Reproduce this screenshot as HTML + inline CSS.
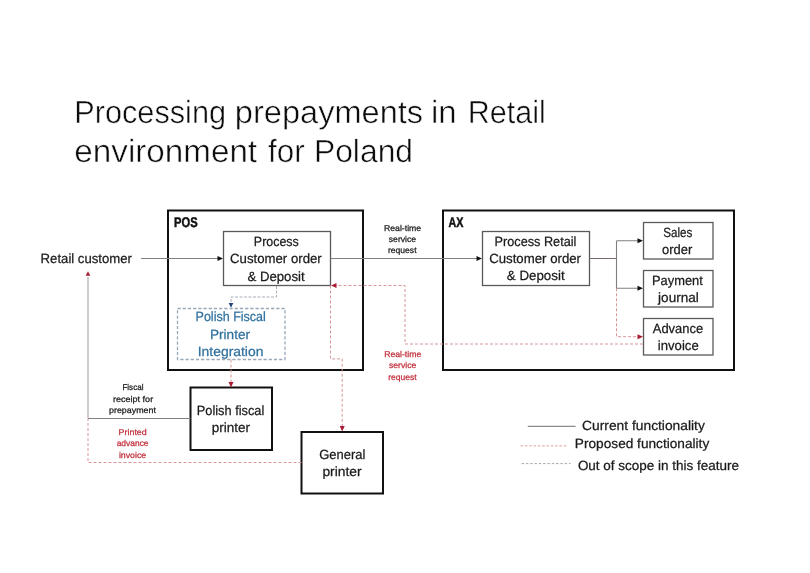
<!DOCTYPE html>
<html><head><meta charset="utf-8">
<style>
html,body{margin:0;padding:0;background:#fff;}
body{width:810px;height:573px;overflow:hidden;}
svg{display:block;text-rendering:geometricPrecision;filter:blur(0.3px);font-family:"Liberation Sans", sans-serif;}
</style></head>
<body>
<svg width="810" height="573" viewBox="0 0 810 573">
<rect width="810" height="573" fill="#fff"/>
<!-- Big boxes -->
<rect x="168" y="210.5" width="195" height="159.5" fill="none" stroke="#111" stroke-width="2"/>
<rect x="443" y="210.5" width="291" height="159.5" fill="none" stroke="#111" stroke-width="2"/>
<!-- Process boxes -->
<g fill="none" stroke="#5a5a5a" stroke-width="1.3">
<rect x="223.5" y="231.5" width="107" height="54"/>
<rect x="482.5" y="231.5" width="107" height="54"/>
<rect x="643.5" y="222.5" width="69.5" height="36.5"/>
<rect x="643.5" y="270.5" width="69.5" height="36.5"/>
<rect x="643.5" y="318.5" width="69.5" height="36.5"/>
</g>
<!-- Polish Fiscal Printer Integration -->
<rect x="177.5" y="308.5" width="107.5" height="51" fill="none" stroke="#98a8b8" stroke-width="1.3" stroke-dasharray="3.2 2"/>
<!-- Printers -->
<rect x="190.5" y="387.5" width="81.5" height="62.5" fill="none" stroke="#111" stroke-width="2"/>
<rect x="301.5" y="432" width="81.5" height="61.5" fill="none" stroke="#111" stroke-width="2"/>
<!-- Legend lines -->
<line x1="527.8" y1="426.3" x2="575.6" y2="426.3" stroke="#8a8a8a" stroke-width="1.2"/>
<line x1="520.7" y1="445.9" x2="568" y2="445.9" stroke="#dca0a0" stroke-width="1" stroke-dasharray="2.5 1.8"/>
<line x1="521.6" y1="463.6" x2="570.7" y2="463.6" stroke="#a4aab2" stroke-width="1" stroke-dasharray="2.5 1.8"/>
<!-- red dashed -->
<g fill="none" stroke="#d89698" stroke-width="1" stroke-dasharray="3 2">
<path d="M616.5 288.3V336.7H638"/>
<path d="M643 344H405V285.5H336"/>
<path d="M330.5 285.5V358.9H342.2V426"/>
<path d="M231 359.5V382"/>
<path d="M301.5 462.5H88V419"/>
</g>
<!-- Connectors: solid -->
<g fill="none" stroke="#808080" stroke-width="1.1">
<path d="M141 258.5H218"/>
<path d="M330.5 258.5H477"/>
<path d="M616.5 240.7V288.3M616.5 240.7H638M616.5 288.3H638"/>
<path d="M190.5 418.5H88"/><path d="M88 418.5V277" stroke="#aaa0a2"/>
</g>
<path d="M589.5 258.5H616.5" stroke="#7a6a6a" stroke-width="1" fill="none"/>
<g fill="#111">
<path d="M223 258.5l-5.5 -2.5v5z"/>
<path d="M482 258.5l-5.5 -2.5v5z"/>
<path d="M643 240.7l-5.5 -2.5v5z M643 288.3l-5.5 -2.5v5z"/>
</g>
<g fill="#a81c34">
<path d="M643 336.7l-5.5 -2.5v5z"/>
<path d="M331 285.5l5.5 -2.5v5z"/>
<path d="M342.2 431.5l-2.5 -5.5h5z"/>
<path d="M231 387.5l-2.5 -5.5h5z"/>
<path d="M88 271.2l-2.3 4.6h4.6z"/>
</g>
<!-- blue dashed -->
<path d="M276.5 286V297H231V303" stroke="#a8b0b8" stroke-width="1" fill="none" stroke-dasharray="3 1.5"/>
<path d="M231 307.8l-2.3 -4.8h4.6z" fill="#23467a"/>

<text x="74.28" y="123" font-size="32" fill="#0c0c0c" stroke="#fff" stroke-width="0.5" textLength="151.74" lengthAdjust="spacingAndGlyphs">Processing</text>
<text x="234.86" y="123" font-size="32" fill="#0c0c0c" stroke="#fff" stroke-width="0.5" textLength="188.25" lengthAdjust="spacingAndGlyphs">prepayments</text>
<text x="431.04" y="123" font-size="32" fill="#0c0c0c" stroke="#fff" stroke-width="0.5" textLength="25.60" lengthAdjust="spacingAndGlyphs">in</text>
<text x="467.69" y="123" font-size="32" fill="#0c0c0c" stroke="#fff" stroke-width="0.5" textLength="78.02" lengthAdjust="spacingAndGlyphs">Retail</text>
<text x="74.36" y="161.5" font-size="32" fill="#0c0c0c" stroke="#fff" stroke-width="0.5" textLength="182.72" lengthAdjust="spacingAndGlyphs">environment</text>
<text x="268.00" y="161.5" font-size="32" fill="#0c0c0c" stroke="#fff" stroke-width="0.5" textLength="36.66" lengthAdjust="spacingAndGlyphs">for</text>
<text x="313.91" y="161.5" font-size="32" fill="#0c0c0c" stroke="#fff" stroke-width="0.5" textLength="99.18" lengthAdjust="spacingAndGlyphs">Poland</text>
<text x="174.10" y="227.4" font-size="14" font-weight="bold" fill="#111" stroke="#111" stroke-width="0.5" textLength="23.57" lengthAdjust="spacingAndGlyphs">POS</text>
<text x="448.60" y="227.2" font-size="14" font-weight="bold" fill="#111" stroke="#111" stroke-width="0.5" textLength="14.89" lengthAdjust="spacingAndGlyphs">AX</text>
<text x="40.61" y="263.4" font-size="13.3" fill="#1a1a1a" stroke="#1a1a1a" stroke-width="0.25" textLength="91.32" lengthAdjust="spacingAndGlyphs">Retail customer</text>
<text x="253.87" y="245.8" font-size="13.3" fill="#1a1a1a" stroke="#1a1a1a" stroke-width="0.25" textLength="44.91" lengthAdjust="spacingAndGlyphs">Process</text>
<text x="230.00" y="263.3" font-size="13.3" fill="#1a1a1a" stroke="#1a1a1a" stroke-width="0.25" textLength="91.73" lengthAdjust="spacingAndGlyphs">Customer order</text>
<text x="247.40" y="280.5" font-size="13.3" fill="#1a1a1a" stroke="#1a1a1a" stroke-width="0.25" textLength="57.30" lengthAdjust="spacingAndGlyphs">&amp; Deposit</text>
<text x="494.55" y="245.5" font-size="13.3" fill="#1a1a1a" stroke="#1a1a1a" stroke-width="0.25" textLength="81.81" lengthAdjust="spacingAndGlyphs">Process Retail</text>
<text x="489.20" y="263.2" font-size="13.3" fill="#1a1a1a" stroke="#1a1a1a" stroke-width="0.25" textLength="91.83" lengthAdjust="spacingAndGlyphs">Customer order</text>
<text x="506.80" y="280.3" font-size="13.3" fill="#1a1a1a" stroke="#1a1a1a" stroke-width="0.25" textLength="57.79" lengthAdjust="spacingAndGlyphs">&amp; Deposit</text>
<text x="663.30" y="237" font-size="13.3" fill="#1a1a1a" stroke="#1a1a1a" stroke-width="0.25" textLength="29.09" lengthAdjust="spacingAndGlyphs">Sales</text>
<text x="662.00" y="254.3" font-size="13.3" fill="#1a1a1a" stroke="#1a1a1a" stroke-width="0.25" textLength="30.24" lengthAdjust="spacingAndGlyphs">order</text>
<text x="652.03" y="284.5" font-size="13.3" fill="#1a1a1a" stroke="#1a1a1a" stroke-width="0.25" textLength="50.77" lengthAdjust="spacingAndGlyphs">Payment</text>
<text x="658.12" y="301.7" font-size="13.3" fill="#1a1a1a" stroke="#1a1a1a" stroke-width="0.25" textLength="40.73" lengthAdjust="spacingAndGlyphs">journal</text>
<text x="652.80" y="332.8" font-size="13.3" fill="#1a1a1a" stroke="#1a1a1a" stroke-width="0.25" textLength="50.28" lengthAdjust="spacingAndGlyphs">Advance</text>
<text x="657.80" y="350" font-size="13.3" fill="#1a1a1a" stroke="#1a1a1a" stroke-width="0.25" textLength="40.89" lengthAdjust="spacingAndGlyphs">invoice</text>
<text x="384.00" y="230.5" font-size="8.4" fill="#1a1a1a" stroke="#1a1a1a" stroke-width="0.25" textLength="37.15" lengthAdjust="spacingAndGlyphs">Real-time</text>
<text x="388.80" y="242" font-size="8.4" fill="#1a1a1a" stroke="#1a1a1a" stroke-width="0.25" textLength="27.25" lengthAdjust="spacingAndGlyphs">service</text>
<text x="388.00" y="253.3" font-size="8.4" fill="#1a1a1a" stroke="#1a1a1a" stroke-width="0.25" textLength="28.51" lengthAdjust="spacingAndGlyphs">request</text>
<text x="384.20" y="356.6" font-size="8.4" fill="#c0303c" stroke="#c0303c" stroke-width="0.25" textLength="37.05" lengthAdjust="spacingAndGlyphs">Real-time</text>
<text x="389.00" y="368.3" font-size="8.4" fill="#c0303c" stroke="#c0303c" stroke-width="0.25" textLength="27.25" lengthAdjust="spacingAndGlyphs">service</text>
<text x="388.20" y="379.7" font-size="8.4" fill="#c0303c" stroke="#c0303c" stroke-width="0.25" textLength="28.51" lengthAdjust="spacingAndGlyphs">request</text>
<text x="122.40" y="390.2" font-size="8.4" fill="#1a1a1a" stroke="#1a1a1a" stroke-width="0.25" textLength="21.07" lengthAdjust="spacingAndGlyphs">Fiscal</text>
<text x="112.90" y="401.6" font-size="8.4" fill="#1a1a1a" stroke="#1a1a1a" stroke-width="0.25" textLength="40.27" lengthAdjust="spacingAndGlyphs">receipt for</text>
<text x="109.00" y="412.8" font-size="8.4" fill="#1a1a1a" stroke="#1a1a1a" stroke-width="0.25" textLength="46.89" lengthAdjust="spacingAndGlyphs">prepayment</text>
<text x="118.60" y="434.6" font-size="8.4" fill="#c0303c" stroke="#c0303c" stroke-width="0.25" textLength="28.14" lengthAdjust="spacingAndGlyphs">Printed</text>
<text x="116.70" y="446.4" font-size="8.4" fill="#c0303c" stroke="#c0303c" stroke-width="0.25" textLength="31.86" lengthAdjust="spacingAndGlyphs">advance</text>
<text x="118.90" y="458.2" font-size="8.4" fill="#c0303c" stroke="#c0303c" stroke-width="0.25" textLength="27.34" lengthAdjust="spacingAndGlyphs">invoice</text>
<text x="195.56" y="321.1" font-size="13.3" fill="#30719e" stroke="#30719e" stroke-width="0.25" textLength="70.30" lengthAdjust="spacingAndGlyphs">Polish Fiscal</text>
<text x="209.98" y="338.7" font-size="13.3" fill="#30719e" stroke="#30719e" stroke-width="0.25" textLength="40.14" lengthAdjust="spacingAndGlyphs">Printer</text>
<text x="197.76" y="355.6" font-size="13.3" fill="#30719e" stroke="#30719e" stroke-width="0.25" textLength="65.66" lengthAdjust="spacingAndGlyphs">Integration</text>
<text x="196.84" y="414.6" font-size="13.3" fill="#1a1a1a" stroke="#1a1a1a" stroke-width="0.25" textLength="67.42" lengthAdjust="spacingAndGlyphs">Polish fiscal</text>
<text x="211.70" y="431.7" font-size="13.3" fill="#1a1a1a" stroke="#1a1a1a" stroke-width="0.25" textLength="38.32" lengthAdjust="spacingAndGlyphs">printer</text>
<text x="319.20" y="459" font-size="13.3" fill="#1a1a1a" stroke="#1a1a1a" stroke-width="0.25" textLength="46.16" lengthAdjust="spacingAndGlyphs">General</text>
<text x="322.40" y="476.2" font-size="13.3" fill="#1a1a1a" stroke="#1a1a1a" stroke-width="0.25" textLength="39.20" lengthAdjust="spacingAndGlyphs">printer</text>
<text x="582.10" y="429.6" font-size="13.3" fill="#1a1a1a" stroke="#1a1a1a" stroke-width="0.25" textLength="122.74" lengthAdjust="spacingAndGlyphs">Current functionality</text>
<text x="574.87" y="448.2" font-size="13.3" fill="#1a1a1a" stroke="#1a1a1a" stroke-width="0.25" textLength="134.37" lengthAdjust="spacingAndGlyphs">Proposed functionality</text>
<text x="577.90" y="469.6" font-size="13.3" fill="#1a1a1a" stroke="#1a1a1a" stroke-width="0.25" textLength="161.00" lengthAdjust="spacingAndGlyphs">Out of scope in this feature</text>
</svg>
</body></html>
